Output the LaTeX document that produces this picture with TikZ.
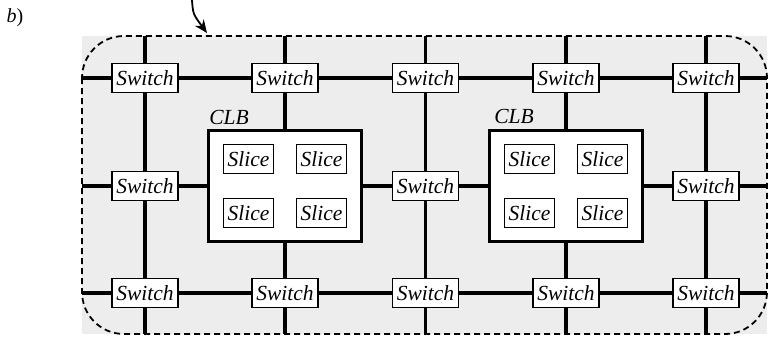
\documentclass[tikz,border=0pt]{standalone}
\usepackage{fontspec}
\setmainfont{Liberation Serif}
\usetikzlibrary{arrows.meta}
\begin{document}
\begin{tikzpicture}[x=1pt,y=-1pt,
  txt/.style={font=\fontsize{21.5}{21.5}\selectfont\itshape},
  sw/.style={txt,draw,line width=1.6pt,fill=white,minimum width=66pt,minimum height=29pt,inner sep=0pt},
  sl/.style={txt,draw,line width=1.6pt,fill=white,minimum width=50pt,minimum height=29pt,inner sep=0pt},
  clb/.style={draw,line width=2.6pt,fill=white,minimum width=153pt,minimum height=111pt,inner sep=0pt},
  wire/.style={line width=3.6pt},
  border/.style={dash pattern=on 6pt off 4pt,line width=1.8pt,rounded corners=42pt}]
\useasboundingbox (0,0) rectangle (769,341);
\fill[black!7] (82,36) rectangle (767,334);
\draw[border] (82,36) rectangle (767,334);
% grid end points
\foreach \i/\x in {1/145,2/285,3/425.5,4/566,5/706}{
  \coordinate (t\i) at (\x,36);
  \coordinate (b\i) at (\x,334);
}
\foreach \r/\y in {a/78,b/186,c/293}{
  \coordinate (l\r) at (82,\y);
  \coordinate (r\r) at (767,\y);
}
% switches
\foreach \i/\x in {1/145,2/285,3/425.5,4/566,5/706}{
  \node[sw] (s\i a) at (\x,78) {Switch};
  \node[sw] (s\i c) at (\x,293) {Switch};
}
\node[sw] (s1b) at (145,186) {Switch};
\node[sw] (s3b) at (425.5,186) {Switch};
\node[sw] (s5b) at (706,186) {Switch};
% CLBs
\node[clb] (clb1) at (285,186) {};
\node[clb] (clb2) at (566,186) {};
\node[txt] (lab1) at (229,117) {CLB};
\node[txt] (lab2) at (514,116) {CLB};
\foreach \k in {1,2}{
  \node[sl] (sl\k a) at ([shift={(-36.5,-27)}]clb\k.center) {Slice};
  \node[sl] (sl\k b) at ([shift={(36.5,-27)}]clb\k.center) {Slice};
  \node[sl] (sl\k c) at ([shift={(-36.5,27)}]clb\k.center) {Slice};
  \node[sl] (sl\k d) at ([shift={(36.5,27)}]clb\k.center) {Slice};
}
% wires
\draw[wire] (la) -- (s1a) -- (s2a) -- (s3a) -- (s4a) -- (s5a) -- (ra);
\draw[wire] (lb) -- (s1b) -- (clb1) -- (s3b) -- (clb2) -- (s5b) -- (rb);
\draw[wire] (lc) -- (s1c) -- (s2c) -- (s3c) -- (s4c) -- (s5c) -- (rc);
\draw[wire] (t1) -- (s1a) -- (s1b) -- (s1c) -- (b1);
\draw[wire] (t2) -- (s2a) -- (clb1) -- (s2c) -- (b2);
\draw[wire] (t3) -- (s3a) -- (s3b) -- (s3c) -- (b3);
\draw[wire] (t4) -- (s4a) -- (clb2) -- (s4c) -- (b4);
\draw[wire] (t5) -- (s5a) -- (s5b) -- (s5c) -- (b5);
% label and arrow
\node[font=\fontsize{20}{20}\selectfont] (blab) at (15,18) {\textit{b})};
\coordinate (arrS) at (192,0);
\coordinate (arrE) at (207,33);
\draw[line width=1.8pt,-{Stealth[length=13pt,width=11pt]}] (arrS) .. controls (193,14) .. (arrE);
\end{tikzpicture}
\end{document}
